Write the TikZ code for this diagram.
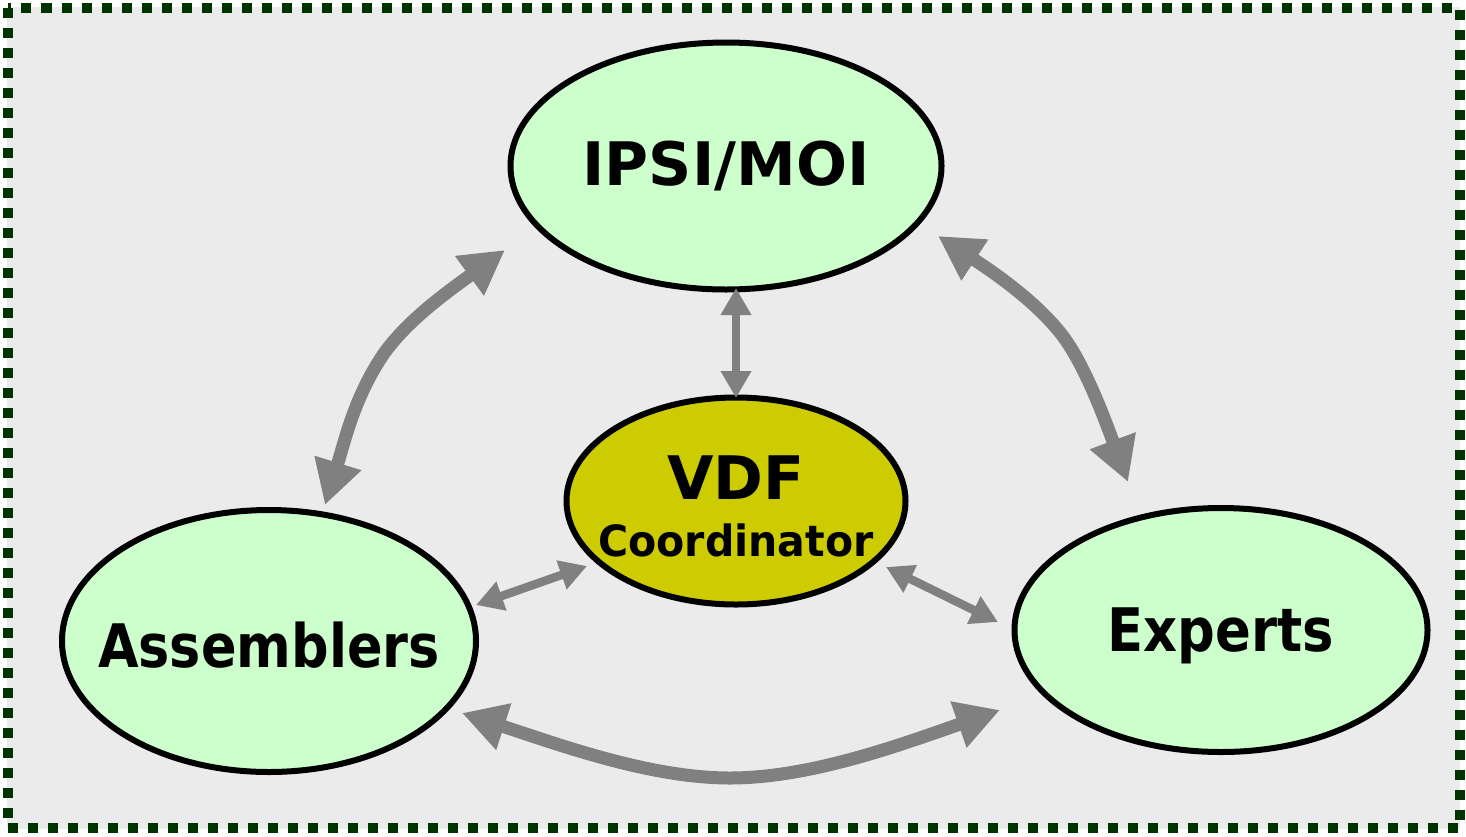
\documentclass[tikz,border=0pt]{standalone}
\usepackage{fontspec}
\usepackage{graphicx}
\setmainfont{DejaVu Sans}
\usetikzlibrary{arrows.meta,shapes.geometric}
\definecolor{bg}{HTML}{EBEBEB}
\definecolor{bord}{HTML}{003300}
\definecolor{lgreen}{HTML}{CCFFCC}
\definecolor{olive}{HTML}{CCCC00}
\definecolor{arr}{HTML}{808080}
\tikzset{
  blob/.style={ellipse, draw=black, line width=6pt, fill=lgreen, inner sep=0pt},
  bigarrow/.style={draw=arr, line width=13pt, {Triangle[length=44pt,width=46pt]}-{Triangle[length=44pt,width=46pt]}},
  smallarrow/.style={draw=arr, line width=8.5pt, {Triangle[length=27pt,width=29pt]}-{Triangle[length=27pt,width=29pt]}},
  lbl/.style={font=\bfseries\fontsize{60}{66}\selectfont},
}
\begin{document}
\begin{tikzpicture}[x=1pt,y=-1pt]
\useasboundingbox (0,0) rectangle (1466,836);
\fill[bg] (7,7) rectangle (1460,829);
\draw[bord, line width=10pt, dash pattern=on 10pt off 10pt] (7.5,7.5) rectangle (1459.5,827.5);

\node[blob, minimum width=431pt, minimum height=247pt] (ipsi) at (726,166) {};
\node[blob, fill=olive, minimum width=339pt, minimum height=207pt] (vdf) at (736,501) {};
\node[blob, minimum width=414pt, minimum height=262pt] (asm) at (269,641) {};
\node[blob, minimum width=413pt, minimum height=244pt] (exp) at (1221,630) {};

\node[lbl] (tipsi) at (ipsi.center) {IPSI/MOI};
\node[lbl] (tvdf) at ([yshift=23pt]vdf.center) {VDF};
\node[font=\bfseries\fontsize{43}{48}\selectfont] (tcoord) at ([yshift=-39pt]vdf.center) {\scalebox{0.955}[1]{Coordinator}};
\node[lbl] (tasm) at ([yshift=-4pt]asm.center) {\scalebox{0.875}[1]{Assemblers}};
\node[lbl] (texp) at ([yshift=-6pt]exp.center) {\scalebox{0.88}[1]{Experts}};

\coordinate (aI) at (325,505);
\coordinate (iA) at (505,250);
\coordinate (iE) at (938,236);
\coordinate (eI) at (1128,482);
\coordinate (aE) at (462,713);
\coordinate (eA) at (1000,710);
\coordinate (iV) at (736,288);
\coordinate (vI) at (736,398);
\coordinate (aV) at (476,605);
\coordinate (vA) at (587,566);
\coordinate (vE) at (886,567);
\coordinate (eV) at (998,622);

\draw[bigarrow] (aI) .. controls (345,440) and (355,395) .. (385,352) .. controls (410,318) and (450,290) .. (iA);
\draw[bigarrow] (iE) .. controls (990,270) and (1035,300) .. (1062,335) .. controls (1085,365) and (1105,420) .. (eI);
\draw[bigarrow] (aE) .. controls (560,745) and (650,778) .. (730,778) .. controls (810,778) and (900,745) .. (eA);
\draw[smallarrow] (iV) -- (vI);
\draw[smallarrow] (aV) -- (vA);
\draw[smallarrow] (vE) -- (eV);
\end{tikzpicture}
\end{document}
